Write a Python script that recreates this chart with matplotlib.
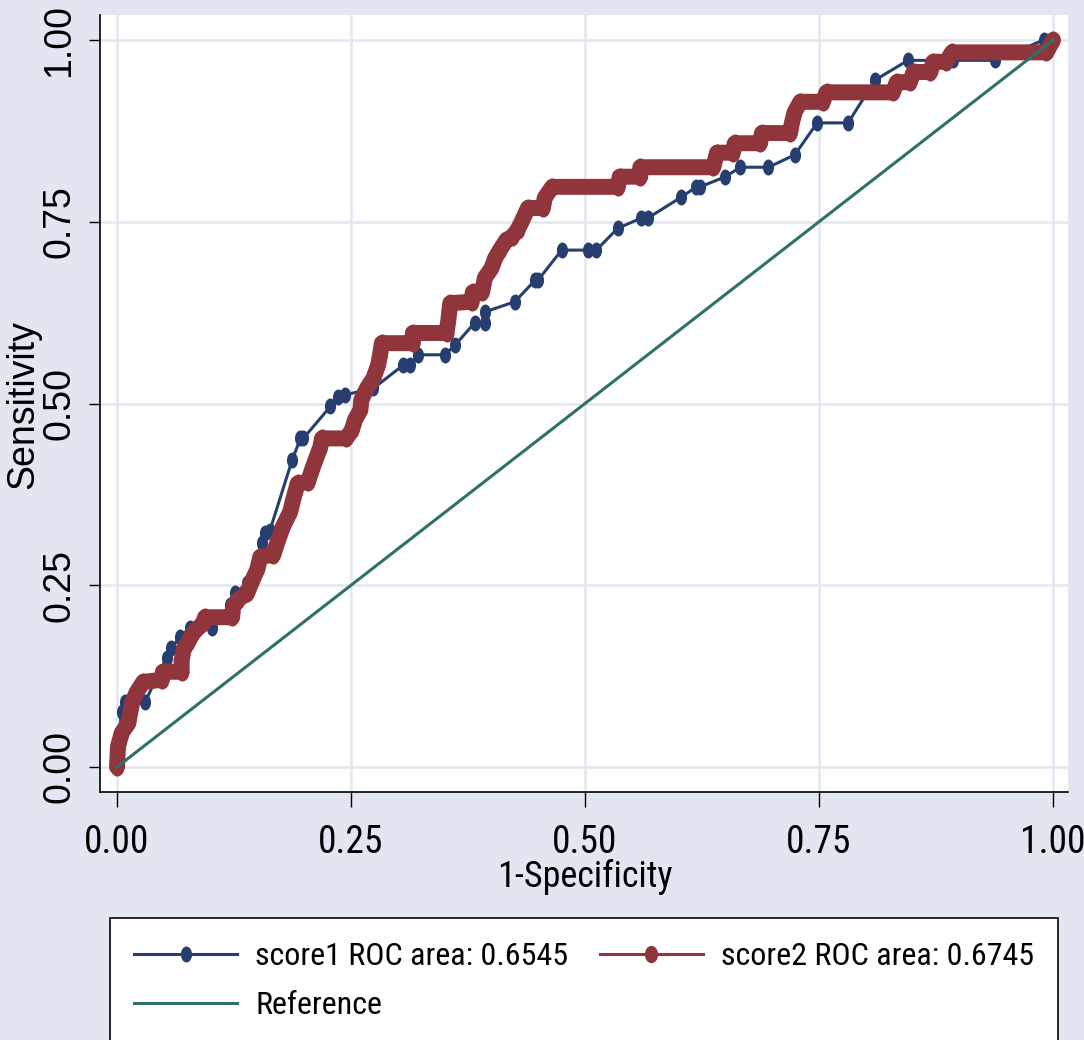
import matplotlib
matplotlib.use("Agg")
import matplotlib.pyplot as plt
from matplotlib.lines import Line2D
from matplotlib.markers import MarkerStyle
from matplotlib.transforms import Affine2D
from matplotlib import font_manager

# ---------------- data ----------------
score1_fpr = [0.000, 0.000, 0.005, 0.009, 0.030, 0.053, 0.058, 0.067, 0.078, 0.101,
              0.121, 0.126, 0.139, 0.155, 0.158, 0.163, 0.187, 0.196, 0.199, 0.228,
              0.236, 0.244, 0.274, 0.306, 0.313, 0.322, 0.350, 0.361, 0.382, 0.393,
              0.393, 0.425, 0.447, 0.450, 0.475, 0.503, 0.512, 0.535, 0.560, 0.567,
              0.603, 0.619, 0.623, 0.650, 0.666, 0.696, 0.724, 0.748, 0.781, 0.810,
              0.845, 0.893, 0.938, 0.990, 1.000]
score1_tpr = [0.000, 0.019, 0.076, 0.090, 0.090, 0.150, 0.163, 0.179, 0.191, 0.191,
              0.223, 0.239, 0.253, 0.308, 0.322, 0.324, 0.422, 0.452, 0.452, 0.496,
              0.509, 0.512, 0.521, 0.553, 0.553, 0.567, 0.567, 0.580, 0.611, 0.611,
              0.626, 0.640, 0.670, 0.670, 0.711, 0.711, 0.711, 0.741, 0.755, 0.755,
              0.784, 0.798, 0.798, 0.812, 0.825, 0.825, 0.842, 0.886, 0.886, 0.945,
              0.972, 0.972, 0.972, 1.000, 1.000]

score2_fpr = [0.000, 0.001, 0.005, 0.012, 0.014, 0.016, 0.021, 0.028, 0.048, 0.049,
              0.069, 0.069, 0.071, 0.076, 0.081, 0.092, 0.094, 0.123, 0.124, 0.129,
              0.139, 0.145, 0.150, 0.153, 0.167, 0.171, 0.177, 0.185, 0.188, 0.193,
              0.204, 0.208, 0.212, 0.217, 0.219, 0.245, 0.251, 0.254, 0.260, 0.261,
              0.267, 0.274, 0.279, 0.281, 0.283, 0.316, 0.316, 0.352, 0.354, 0.356,
              0.379, 0.380, 0.390, 0.393, 0.400, 0.404, 0.409, 0.416, 0.422, 0.428,
              0.433, 0.439, 0.455, 0.457, 0.465, 0.535, 0.537, 0.559, 0.559, 0.637,
              0.641, 0.658, 0.660, 0.687, 0.689, 0.719, 0.721, 0.724, 0.730, 0.754,
              0.758, 0.829, 0.833, 0.847, 0.851, 0.869, 0.872, 0.886, 0.892, 0.993,
              1.000]
score2_tpr = [0.000, 0.028, 0.047, 0.060, 0.074, 0.088, 0.103, 0.117, 0.120, 0.131,
              0.131, 0.147, 0.161, 0.172, 0.184, 0.198, 0.206, 0.206, 0.220, 0.230,
              0.239, 0.258, 0.272, 0.289, 0.292, 0.308, 0.330, 0.351, 0.367, 0.390,
              0.392, 0.408, 0.422, 0.439, 0.452, 0.452, 0.464, 0.477, 0.491, 0.505,
              0.521, 0.535, 0.553, 0.567, 0.583, 0.583, 0.597, 0.597, 0.615, 0.638,
              0.640, 0.653, 0.653, 0.673, 0.686, 0.700, 0.711, 0.725, 0.729, 0.739,
              0.752, 0.769, 0.769, 0.783, 0.798, 0.798, 0.812, 0.812, 0.825, 0.825,
              0.845, 0.845, 0.858, 0.858, 0.872, 0.872, 0.886, 0.901, 0.915, 0.915,
              0.928, 0.928, 0.942, 0.942, 0.956, 0.956, 0.970, 0.970, 0.983, 0.983,
              1.000]

ref_x = [0.0, 1.0]
ref_y = [0.0, 1.0]

tick_vals = [0.0, 0.25, 0.5, 0.75, 1.0]
tick_labels = ["0.00", "0.25", "0.50", "0.75", "1.00"]
legend_labels = ["score1 ROC area: 0.6545", "Reference", "score2 ROC area: 0.6745"]
x_title = "1-Specificity"
y_title = "Sensitivity"

# ---------------- fonts ----------------
avail = {f.name for f in font_manager.fontManager.ttflist}
regular = "Liberation Sans" if "Liberation Sans" in avail else "DejaVu Sans"
if "Liberation Sans Narrow" in avail:
    narrow = "Liberation Sans Narrow"
elif "DejaVu Sans Condensed" in avail:
    narrow = "DejaVu Sans Condensed"
elif "Roboto Condensed" in avail:
    narrow = "Roboto Condensed"
else:
    narrow = regular

# ---------------- colors ----------------
bg = "#E1E6F0"
navy = "#263F70"
maroon = "#90353B"
green = "#2E7166"

W, H = 1084, 1040
fig = plt.figure(figsize=(W / 100, H / 100), dpi=100, facecolor=bg)
left, right, top, bottom = 100, 1068, 15, 792
ax = fig.add_axes([left / W, 1 - bottom / H, (right - left) / W, (bottom - top) / H])
ax.set_facecolor("white")

ax.set_xlim(-0.0182, 1.016)
ax.set_ylim(-0.0344, 1.0344)

for s in ["top", "right"]:
    ax.spines[s].set_visible(False)
for s in ["left", "bottom"]:
    ax.spines[s].set_color("black")
    ax.spines[s].set_linewidth(1.2)

ax.set_xticks(tick_vals)
ax.set_xticklabels(tick_labels, fontfamily=narrow, fontsize=27)
ax.set_yticks(tick_vals)
ax.set_yticklabels(tick_labels, fontfamily=regular, fontsize=27, rotation=90)
for lab in ax.get_yticklabels():
    lab.set_va("center")
ax.tick_params(axis="x", length=11, width=1, pad=12, direction="out", colors="black")
ax.tick_params(axis="y", length=8, width=1, pad=8.5, direction="out", colors="black")

ax.grid(True, color="#E3E7F1", linewidth=1.8)
ax.set_axisbelow(True)

ell1 = MarkerStyle("o", transform=Affine2D().scale(0.70, 1.0))
ell2 = MarkerStyle("o", transform=Affine2D().scale(0.76, 1.0))

# score1
ax.plot(score1_fpr, score1_tpr, color=navy, linewidth=2.2, marker=ell1, markersize=11.5,
        markeredgewidth=0, zorder=3)
# score2 (dense markers appear as thick band)
ax.plot(score2_fpr, score2_tpr, color=maroon, linewidth=11.5, solid_joinstyle="round",
        solid_capstyle="round", marker=ell2, markersize=13, markeredgewidth=0, zorder=4)
# reference
ax.plot(ref_x, ref_y, color=green, linewidth=2.2, zorder=5)

ax.set_xlabel(x_title, fontfamily=narrow, fontsize=26)
ax.xaxis.set_label_coords(0.501, -0.086)
ax.set_ylabel(y_title, fontfamily=regular, fontsize=27)
ax.yaxis.set_label_coords(-0.061, 0.498)

h1 = Line2D([], [], color=navy, linewidth=2.2, marker=ell1, markersize=11.5, markeredgewidth=0)
h2 = Line2D([], [], color=maroon, linewidth=2.2, marker=ell2, markersize=12.5, markeredgewidth=0)
h3 = Line2D([], [], color=green, linewidth=2.2)

lx0, lx1, ly0 = 110, 1058, 918
leg = fig.legend([h1, h3, h2], legend_labels, ncol=2, loc="upper left",
                 bbox_to_anchor=(lx0 / W, 1 - ly0 / H, (lx1 - lx0) / W, 0.0),
                 mode="expand", borderaxespad=0, frameon=True, fancybox=False,
                 edgecolor="black", facecolor="white", framealpha=1,
                 prop={"family": narrow, "size": 23}, handlelength=3.23,
                 handletextpad=0.56, borderpad=0.75, labelspacing=0.63, numpoints=1)
leg.get_frame().set_linewidth(1.2)

fig.savefig("out.png", dpi=100, facecolor=bg)
